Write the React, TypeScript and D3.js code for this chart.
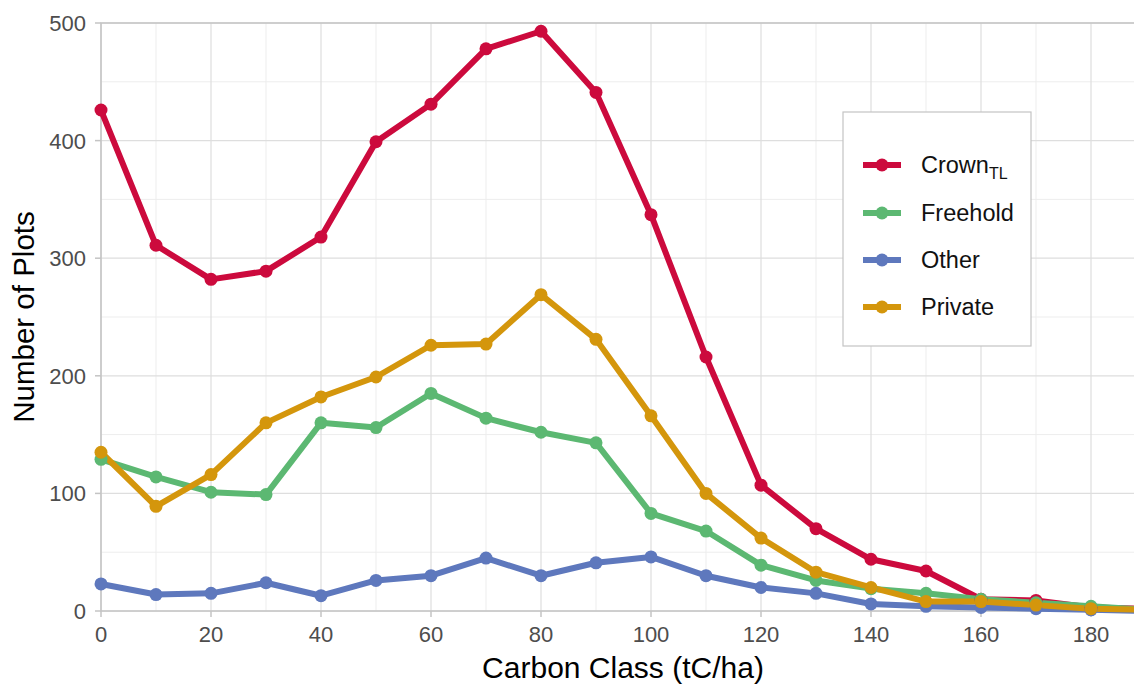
import React from "react";
import * as d3 from "d3";

const carbonClasses = [0, 10, 20, 30, 40, 50, 60, 70, 80, 90, 100, 110, 120, 130, 140, 150, 160, 170, 180, 190];
const crownTL = [426, 311, 282, 289, 318, 399, 431, 478, 493, 441, 337, 216, 107, 70, 44, 34, 10, 9, 3, 2];
const freehold = [129, 114, 101, 99, 160, 156, 185, 164, 152, 143, 83, 68, 39, 26, 19, 15, 10, 7, 4, 1];
const other = [23, 14, 15, 24, 13, 26, 30, 45, 30, 41, 46, 30, 20, 15, 6, 4, 3, 2, 1, 0];
const privateLand = [135, 89, 116, 160, 182, 199, 226, 227, 269, 231, 166, 100, 62, 33, 20, 8, 8, 5, 2, 1];

const xTicks = [0, 20, 40, 60, 80, 100, 120, 140, 160, 180];
const xMinor = [10, 30, 50, 70, 90, 110, 130, 150, 170, 190];
const yTicks = [0, 100, 200, 300, 400, 500];
const yMinor = [50, 150, 250, 350, 450];

const seriesNames = ["Crown", "Freehold", "Other", "Private"];
const seriesColors = ["#cc0a3d", "#5cb872", "#5e78bd", "#d4960c"];
const seriesValues = [crownTL, freehold, other, privateLand];

const W = 1134;
const H = 686;
const FONT = "Arial, 'Liberation Sans', Helvetica, sans-serif";

export default function App() {
  const x = d3.scaleLinear().domain([0, 190]).range([101, 1146]);
  const y = d3.scaleLinear().domain([0, 500]).range([611, 23]);
  const line = d3
    .line<[number, number]>()
    .x((d) => x(d[0]))
    .y((d) => y(d[1]));

  const series = seriesValues.map((vals, i) => ({
    name: seriesNames[i],
    color: seriesColors[i],
    pts: carbonClasses.map((c, j) => [c, vals[j]] as [number, number]),
  }));

  const left = x(0);
  const right = x(190);
  const top = y(500);
  const bottom = y(0);

  const legX = 843;
  const legY = 112;
  const legW = 188;
  const legH = 234;
  const itemY = [165, 213, 260, 307];

  return (
    <svg
      width={W}
      height={H}
      style={{ position: "absolute", left: 0, top: 0, background: "#fff" }}
      fontFamily={FONT}
    >
      <rect x={0} y={0} width={W} height={H} fill="#fff" />
      <defs>
        <clipPath id="panel">
          <rect x={left - 10} y={top - 10} width={right - left + 20} height={bottom - top + 20} />
        </clipPath>
      </defs>
      {yMinor.map((v) => (
        <line key={"ym" + v} x1={left} x2={right} y1={y(v)} y2={y(v)} stroke="#ededed" strokeWidth={1} />
      ))}
      {xMinor.map((v) => (
        <line key={"xm" + v} x1={x(v)} x2={x(v)} y1={top} y2={bottom} stroke="#ededed" strokeWidth={1} />
      ))}
      {yTicks.map((v) => (
        <line key={"yg" + v} x1={left} x2={right} y1={y(v)} y2={y(v)} stroke="#dedede" strokeWidth={1.2} />
      ))}
      {xTicks.map((v) => (
        <line key={"xg" + v} x1={x(v)} x2={x(v)} y1={top} y2={bottom} stroke="#dedede" strokeWidth={1.2} />
      ))}
      <rect x={left} y={top} width={right - left} height={bottom - top} fill="none" stroke="#c4c4c4" strokeWidth={1.5} />
      {yTicks.map((v) => (
        <line key={"yt" + v} x1={left - 6} x2={left} y1={y(v)} y2={y(v)} stroke="#c4c4c4" strokeWidth={1.5} />
      ))}
      {xTicks.map((v) => (
        <line key={"xt" + v} x1={x(v)} x2={x(v)} y1={bottom} y2={bottom + 6} stroke="#c4c4c4" strokeWidth={1.5} />
      ))}
      {yTicks.map((v) => (
        <text key={"yl" + v} x={86} y={y(v)} dy="0.36em" textAnchor="end" fontSize={22} fill="#4d4d4d">
          {v}
        </text>
      ))}
      {xTicks.map((v) => (
        <text key={"xl" + v} x={x(v)} y={642} textAnchor="middle" fontSize={22} fill="#4d4d4d">
          {v}
        </text>
      ))}
      <text x={623} y={678} textAnchor="middle" fontSize={30} fill="#000">
        Carbon Class (tC/ha)
      </text>
      <text
        transform={`translate(34, ${(top + bottom) / 2}) rotate(-90)`}
        textAnchor="middle"
        fontSize={29.5}
        fill="#000"
      >
        Number of Plots
      </text>
      <g clipPath="url(#panel)">
        {series.map((s) => (
          <path key={"l" + s.name} d={line(s.pts) || ""} fill="none" stroke={s.color} strokeWidth={6} strokeLinejoin="round" />
        ))}
        {series.map((s) =>
          s.pts.map((p, j) => (
            <circle key={s.name + j} cx={x(p[0])} cy={y(p[1])} r={6.5} fill={s.color} />
          ))
        )}
      </g>
      <rect x={legX} y={legY} width={legW} height={legH} fill="#fff" stroke="#c4c4c4" strokeWidth={1.2} />
      {series.map((s, i) => (
        <g key={"leg" + s.name}>
          <line x1={863} x2={901} y1={itemY[i]} y2={itemY[i]} stroke={s.color} strokeWidth={6} />
          <circle cx={882} cy={itemY[i]} r={6.5} fill={s.color} />
          <text x={921} y={itemY[i]} dy="0.36em" fontSize={23.5} fill="#111">
            {s.name}
            {i === 0 ? (
              <tspan fontSize={16} dy="0.35em">
                TL
              </tspan>
            ) : null}
          </text>
        </g>
      ))}
    </svg>
  );
}
